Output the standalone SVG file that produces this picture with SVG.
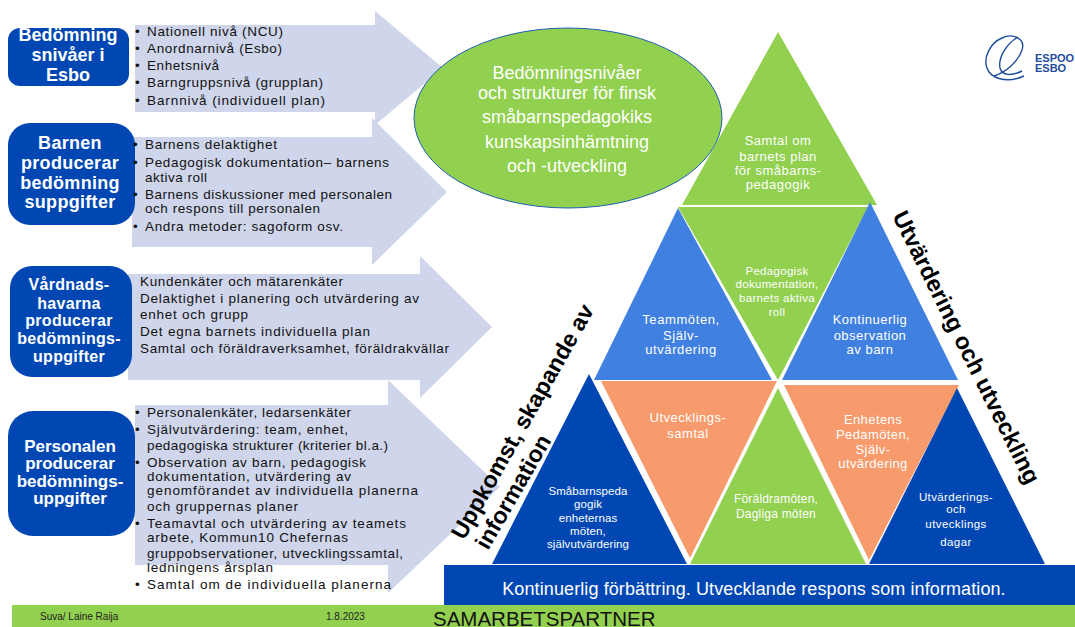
<svg xmlns="http://www.w3.org/2000/svg" width="1075" height="627" viewBox="0 0 1075 627">
<style>
text{font-family:"Liberation Sans",Arial,sans-serif}
.box{fill:#0047b3}
.arrow{fill:#cfd5ea}
.t{font-weight:bold;fill:#fff;text-anchor:middle}
.l{font-size:13.5px;fill:#111}
.w{fill:#fff;text-anchor:middle}
.g{fill:#92d050}.b{fill:#4080e0}.d{fill:#0047b3}.o{fill:#f79a6c}
.r{font-weight:bold;fill:#000}
</style>
<rect width="1075" height="627" fill="#fff"/>
<g id="connectors">
<polygon class="arrow" points="135,25 375,25 375,11 443,68 375,125 375,112 135,112"/>
<polygon class="arrow" points="132,137 372,137 372,118 447,192 372,265 372,247 132,247"/>
<polygon class="arrow" points="128,274 420,274 420,256 492,327 420,398 420,380 128,380"/>
<polygon class="arrow" points="135,405 388,405 388,380 500,487 388,593 388,565 135,565"/>
</g>
<g id="node-nivaer">
<rect class="box" x="8" y="28" width="121" height="58" rx="12"/>
<text class="t" font-size="18"><tspan x="68" y="41">Bedömning</tspan><tspan x="68" y="61">snivåer i</tspan><tspan x="68" y="81">Esbo</tspan></text>
<text class="l"><tspan x="135" y="36">•</tspan><tspan x="147" y="36" textLength="136">Nationell nivå (NCU)</tspan><tspan x="135" y="53">•</tspan><tspan x="147" y="53" textLength="135">Anordnarnivå (Esbo)</tspan><tspan x="135" y="70">•</tspan><tspan x="147" y="70" textLength="72">Enhetsnivå</tspan><tspan x="135" y="87">•</tspan><tspan x="147" y="87" textLength="176">Barngruppsnivå (grupplan)</tspan><tspan x="135" y="105">•</tspan><tspan x="147" y="105" textLength="178">Barnnivå (individuell plan)</tspan></text>
</g>
<g id="node-barnen">
<rect class="box" x="8" y="123" width="127" height="102" rx="22"/>
<text class="t" font-size="18" letter-spacing=".3"><tspan x="70" y="149">Barnen</tspan><tspan x="70" y="169">producerar</tspan><tspan x="70" y="189">bedömning</tspan><tspan x="70" y="208">suppgifter</tspan></text>
<text class="l"><tspan x="133" y="149">•</tspan><tspan x="145" y="149" textLength="132">Barnens delaktighet</tspan><tspan x="133" y="167">•</tspan><tspan x="145" y="167" textLength="244">Pedagogisk dokumentation– barnens</tspan><tspan x="145" y="182" textLength="62">aktiva roll</tspan><tspan x="133" y="199">•</tspan><tspan x="145" y="199" textLength="247">Barnens diskussioner med personalen</tspan><tspan x="145" y="213" textLength="175">och respons till personalen</tspan><tspan x="133" y="231">•</tspan><tspan x="145" y="231" textLength="198">Andra metoder: sagoform osv.</tspan></text>
</g>
<g id="node-vardnad">
<rect class="box" x="10" y="266" width="122" height="111" rx="22"/>
<text class="t" font-size="16" letter-spacing=".3"><tspan x="69" y="290">Vårdnads-</tspan><tspan x="69" y="309">havarna</tspan><tspan x="69" y="326">producerar</tspan><tspan x="69" y="344">bedömnings-</tspan><tspan x="69" y="362">uppgifter</tspan></text>
<text class="l"><tspan x="140" y="286" textLength="203">Kundenkäter och mätarenkäter</tspan><tspan x="140" y="303" textLength="279">Delaktighet i planering och utvärdering av</tspan><tspan x="140" y="319" textLength="108">enhet och grupp</tspan><tspan x="140" y="336" textLength="230">Det egna barnets individuella plan</tspan><tspan x="140" y="353" textLength="309">Samtal och föräldraverksamhet, föräldrakvällar</tspan></text>
</g>
<g id="node-personalen">
<rect class="box" x="8" y="411" width="127" height="125" rx="25"/>
<text class="t" font-size="17"><tspan x="70" y="452">Personalen</tspan><tspan x="70" y="469">producerar</tspan><tspan x="70" y="487">bedömnings-</tspan><tspan x="70" y="504">uppgifter</tspan></text>
<text class="l"><tspan x="135" y="417">•</tspan><tspan x="147" y="417" textLength="204">Personalenkäter, ledarsenkäter</tspan><tspan x="135" y="434">•</tspan><tspan x="147" y="434" textLength="201">Självutvärdering: team, enhet,</tspan><tspan x="147" y="450" textLength="241">pedagogiska strukturer (kriterier bl.a.)</tspan><tspan x="135" y="467">•</tspan><tspan x="147" y="467" textLength="219">Observation av barn, pedagogisk</tspan><tspan x="147" y="481" textLength="204">dokumentation, utvärdering av</tspan><tspan x="147" y="495" textLength="271">genomförandet av individuella planerna</tspan><tspan x="147" y="511" textLength="151">och gruppernas planer</tspan><tspan x="135" y="528">•</tspan><tspan x="147" y="528" textLength="259">Teamavtal och utvärdering av teamets</tspan><tspan x="147" y="542" textLength="201">arbete, Kommun10 Chefernas</tspan><tspan x="147" y="558" textLength="256">gruppobservationer, utvecklingssamtal,</tspan><tspan x="147" y="572" textLength="126">ledningens årsplan</tspan><tspan x="135" y="589">•</tspan><tspan x="147" y="589" textLength="244">Samtal om de individuella planerna</tspan></text>
</g>
<g id="node-center">
<ellipse cx="568" cy="118" rx="154" ry="90" fill="#92d050" stroke="#1f5fb0" stroke-width="1"/>
<text class="w" font-size="18"><tspan x="567" y="79">Bedömningsnivåer</tspan><tspan x="567" y="99">och strukturer för finsk</tspan><tspan x="567" y="123">småbarnspedagokiks</tspan><tspan x="567" y="148">kunskapsinhämtning</tspan><tspan x="567" y="172">och -utveckling</tspan></text>
</g>
<g id="node-bar">
<rect class="d" x="444" y="565" width="631" height="40"/>
<text class="w" font-size="18" letter-spacing=".1" x="754" y="595">Kontinuerlig förbättring. Utvecklande respons som information.</text>
</g>
<g id="node-tri-top">
<polygon class="g" points="778,32 877,205 682,205"/>
<text class="w" font-size="13" letter-spacing=".5"><tspan x="778" y="145">Samtal om</tspan><tspan x="778" y="161">barnets plan</tspan><tspan x="778" y="175">för småbarns-</tspan><tspan x="778" y="189">pedagogik</tspan></text>
</g>
<g id="node-tri-mid">
<polygon class="g" points="678,207 868,207 778,380"/>
<text class="w" font-size="11.5" letter-spacing=".3"><tspan x="777" y="275">Pedagogisk</tspan><tspan x="777" y="288">dokumentation,</tspan><tspan x="777" y="302">barnets aktiva</tspan><tspan x="777" y="316">roll</tspan></text>
</g>
<g id="node-tri-team">
<polygon class="b" points="678,208 772,380 594,380"/>
<text class="w" font-size="13" letter-spacing=".6"><tspan x="681" y="324">Teammöten,</tspan><tspan x="681" y="340">Själv-</tspan><tspan x="681" y="354">utvärdering</tspan></text>
</g>
<g id="node-tri-obs">
<polygon class="b" points="870,202 958,380 782,380"/>
<text class="w" font-size="13" letter-spacing=".5"><tspan x="870" y="324">Kontinuerlig</tspan><tspan x="870" y="340">observation</tspan><tspan x="870" y="354">av barn</tspan></text>
</g>
<g id="node-tri-sm">
<polygon class="d" points="589,374 687,564 492,564"/>
<text class="w" font-size="11.5" letter-spacing=".1"><tspan x="588" y="495">Småbarnspeda</tspan><tspan x="588" y="508">gogik</tspan><tspan x="588" y="522">enheternas</tspan><tspan x="588" y="535">möten,</tspan><tspan x="588" y="548">självutvärdering</tspan></text>
</g>
<g id="node-tri-samtal">
<polygon class="o" points="601,381 777,381 690,558"/>
<text class="w" font-size="13" letter-spacing=".5"><tspan x="688" y="422">Utvecklings-</tspan><tspan x="688" y="438">samtal</tspan></text>
</g>
<g id="node-tri-foraldra">
<polygon class="g" points="778,388 866,564 690,564"/>
<text class="w" font-size="12" letter-spacing=".2"><tspan x="776" y="503">Föräldramöten,</tspan><tspan x="776" y="518">Dagliga möten</tspan></text>
</g>
<g id="node-tri-enhet">
<polygon class="o" points="784,385 959,385 869,560"/>
<text class="w" font-size="13" letter-spacing=".4"><tspan x="873" y="424">Enhetens</tspan><tspan x="873" y="439">Pedamöten,</tspan><tspan x="873" y="454">Själv-</tspan><tspan x="873" y="468">utvärdering</tspan></text>
</g>
<g id="node-tri-dagar">
<polygon class="d" points="957,388 1045,564 869,564"/>
<text class="w" font-size="11.5" letter-spacing=".4"><tspan x="956" y="501">Utvärderings-</tspan><tspan x="956" y="513">och</tspan><tspan x="956" y="528">utvecklings</tspan><tspan x="956" y="546">dagar</tspan></text>
</g>
<g id="node-labels">
<text class="r" font-size="23.4" transform="translate(892,216) rotate(63.5)">Utvärdering och utveckling</text>
<text class="r" font-size="23.2" transform="translate(464,541) rotate(-60.5)">Uppkomst, skapande av</text>
<text class="r" font-size="23.2" transform="translate(488,551) rotate(-60)">information</text>
</g>
<g id="node-footer">
<rect class="g" x="12" y="605" width="1063" height="22"/>
<text font-size="10" fill="#222" x="40" y="620">Suva/ Laine Raija</text>
<text font-size="10" fill="#222" x="326" y="620">1.8.2023</text>
<text font-size="20.5" fill="#111" x="433" y="625.5">SAMARBETSPARTNER</text>
</g>
<g id="node-logo" fill="none" stroke="#1f4e9c" stroke-width="1.4">
<path d="M1022,50 C1026,38 1012,33 1002,38 C990,43 983,58 987,68 C990,78 1006,84 1024,76"/>
<path d="M1022,50 C1018,62 1006,72 994,76"/>
<path d="M1018,37 C1006,44 998,58 1000,68 C1002,76 1012,76 1022,71"/>
<text x="1035" y="62" font-size="11" font-weight="bold" fill="#1f4e9c" stroke="none">ESPOO</text>
<text x="1035" y="72" font-size="11" font-weight="bold" fill="#1f4e9c" stroke="none">ESBO</text>
</g>
</svg>
